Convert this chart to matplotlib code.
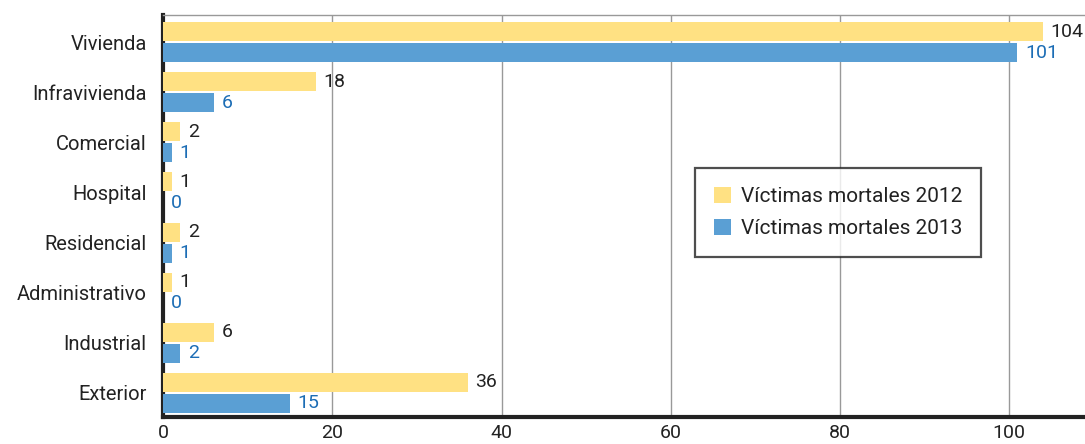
import matplotlib.pyplot as plt
import numpy as np

categories = ['Vivienda', 'Infravivienda', 'Comercial', 'Hospital',
              'Residencial', 'Administrativo', 'Industrial', 'Exterior']
victimas_2012 = [104, 18, 2, 1, 2, 1, 6, 36]
victimas_2013 = [101, 6, 1, 0, 1, 0, 2, 15]

yellow = '#FFE183'
blue = '#5A9FD4'

plt.rcParams['font.family'] = ['Roboto', 'DejaVu Sans']

fig, ax = plt.subplots(figsize=(10.85, 4.44), dpi=100)
fig.subplots_adjust(left=0.1505, right=1.0, top=0.966, bottom=0.061)

y = np.arange(len(categories))
h = 0.38
b1 = ax.barh(y - h / 2 - 0.02, victimas_2012, height=h, color=yellow,
             label='Víctimas mortales 2012', zorder=3)
b2 = ax.barh(y + h / 2 + 0.02, victimas_2013, height=h, color=blue,
             label='Víctimas mortales 2013', zorder=3)

for rect, v in zip(b1, victimas_2012):
    ax.text(v + 0.9, rect.get_y() + rect.get_height() / 2, str(v),
            va='center', ha='left', fontsize=14, color='#222222')
for rect, v in zip(b2, victimas_2013):
    ax.text(v + 0.9, rect.get_y() + rect.get_height() / 2, str(v),
            va='center', ha='left', fontsize=14, color='#1C6DB5')

ax.set_yticks(y)
ax.set_yticklabels(categories, fontsize=14.5, color='#222222')
ax.set_ylim(len(categories) - 0.52, -0.54)
ax.set_xlim(0, 109)
ax.set_xticks([0, 20, 40, 60, 80, 100])
ax.tick_params(axis='x', labelsize=14, length=0, pad=5, colors='#222222')
ax.tick_params(axis='y', length=0, pad=12)

ax.grid(axis='x', color='#999999', linewidth=1, zorder=0)
ax.spines['right'].set_visible(False)
ax.spines['top'].set_color('#999999')
ax.spines['top'].set_linewidth(1)
ax.spines['left'].set_linewidth(3)
ax.spines['left'].set_color('#222222')
ax.spines['bottom'].set_linewidth(3)
ax.spines['bottom'].set_color('#222222')

leg = ax.legend(loc='upper left', bbox_to_anchor=(0.577, 0.619), fontsize=15,
                frameon=True, fancybox=False, handlelength=0.8, handleheight=0.8,
                borderpad=0.9, labelspacing=0.6, handletextpad=0.5,
                borderaxespad=0)
leg.get_frame().set_edgecolor('#222222')
leg.get_frame().set_linewidth(1.6)
for t in leg.get_texts():
    t.set_color('#222222')

plt.savefig('out.png', dpi=100)
